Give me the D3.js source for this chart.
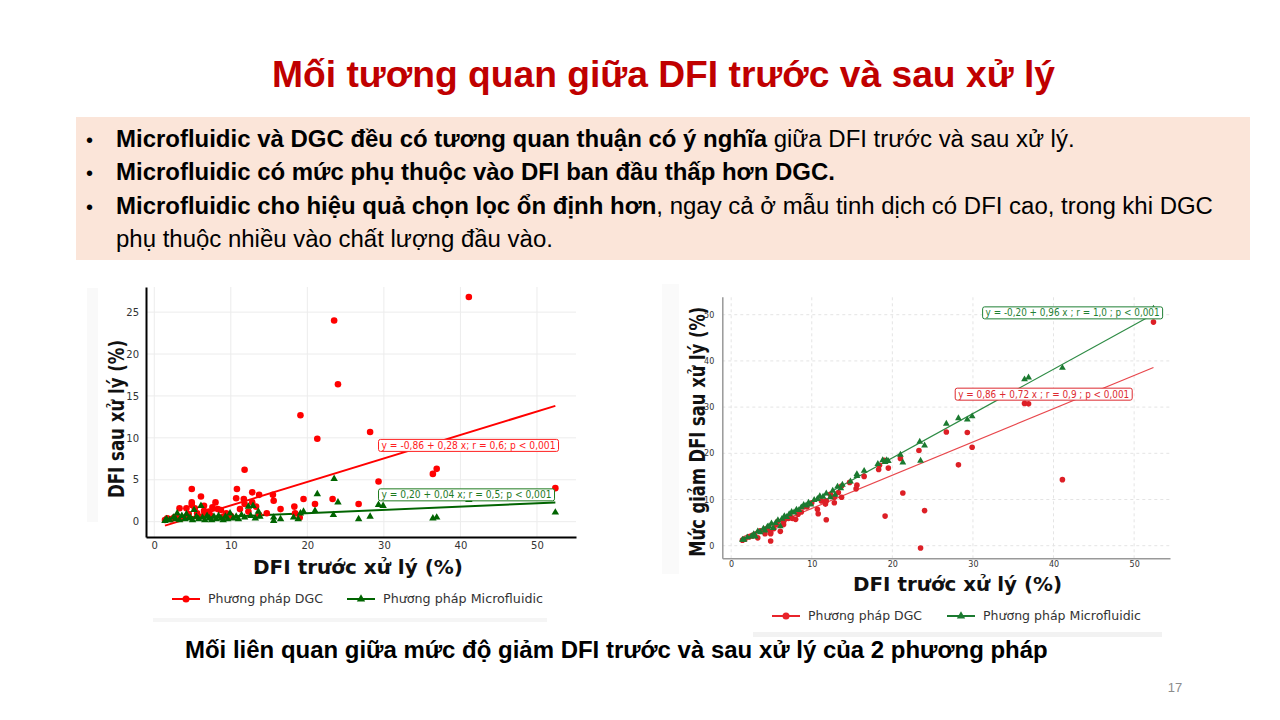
<!DOCTYPE html>
<html><head><meta charset="utf-8">
<script src="https://cdn.jsdelivr.net/npm/d3@7/dist/d3.min.js"></script>
<style>
html,body{margin:0;padding:0;background:#fff;}
svg{display:block;}
</style></head>
<body>
<svg id="slide" width="1280" height="720"></svg>
<script>
// ---------- DATA ----------
const slideTitle = "Mối tương quan giữa DFI trước và sau xử lý";
const caption = "Mối liên quan giữa mức độ giảm DFI trước và sau xử lý của 2 phương pháp";
const slideNumber = "17";
const bullets = [
  [{t:"Microfluidic và DGC đều có tương quan thuận có ý nghĩa", b:true},{t:" giữa DFI trước và sau xử lý.", b:false}],
  [{t:"Microfluidic có mức phụ thuộc vào DFI ban đầu thấp hơn DGC.", b:true}],
  [{t:"Microfluidic cho hiệu quả chọn lọc ổn định hơn", b:true},{t:", ngay cả ở mẫu tinh dịch có DFI cao, trong khi DGC", b:false}],
  [{t:"phụ thuộc nhiều vào chất lượng đầu vào.", b:false}]
];
const seriesNames = ["Phương pháp DGC", "Phương pháp Microfluidic"];
const leftYTitle = "DFI sau xử lý (%)";
const rightYTitle = "Mức giảm DFI sau xử lý (%)";
const xTitle = "DFI trước xử lý (%)";

const leftXTicks = [0,10,20,30,40,50];
const leftYTicks = [0,5,10,15,20,25];
const rightXTicks = [0,10,20,30,40,50];
const rightYTicks = [0,10,20,30,40,50];

// Left chart: DFI after treatment
const leftDgcX = [1.4,1.7,2.2,2.6,2.9,3.3,3.6,4.2,4.2,4.5,4.9,4.9,4.9,5.3,5.6,5.8,6.1,6.5,6.5,6.6,7.1,7.3,7.6,8.0,8.3,8.7,9.0,9.4,10.0,10.7,10.8,11.2,11.7,11.8,11.8,12.3,12.8,12.8,13.3,13.7,13.7,14.7,15.5,15.6,16.5,18.3,18.4,19.0,19.1,19.5,21.0,21.3,23.3,23.5,24.0,26.7,28.2,29.3,36.4,36.9,41.1,52.4];
const leftDgcY = [0.2,0.4,0.3,0.5,0.6,1.6,0.4,1.6,0.6,0.9,3.9,2.3,2.0,1.6,1.0,0.5,3.0,1.9,1.3,1.0,1.2,0.8,1.7,2.3,1.5,1.4,0.6,1.0,0.7,2.8,3.9,1.5,2.7,6.2,2.1,1.2,3.5,2.3,1.8,3.2,0.8,1.0,3.2,2.5,1.5,1.8,1.0,0.5,12.7,2.7,2.1,9.9,2.7,24.0,16.4,2.1,10.7,4.8,5.7,6.3,26.8,4.0];
const leftMfX = [1.4,1.6,2.0,2.5,2.8,3.0,3.3,3.6,4.0,4.2,4.5,4.7,5.0,5.2,5.5,5.8,6.1,6.3,6.6,6.9,7.2,7.5,7.8,8.1,8.4,8.7,9.0,9.3,9.6,9.9,10.3,10.7,11.0,11.4,11.8,12.3,12.6,12.9,13.2,13.6,13.8,15.6,15.6,16.5,18.2,18.8,19.1,19.5,21.0,21.3,23.4,23.5,24.0,26.7,28.2,29.3,29.9,36.4,36.9,41.1,52.4];
const leftMfY = [0.1,0.3,0.2,0.5,0.3,1.0,0.2,0.7,0.3,0.9,0.4,0.5,0.2,1.4,0.6,0.3,1.9,0.5,0.2,0.7,0.4,0.2,0.6,0.3,0.7,0.4,0.2,0.6,0.3,1.0,0.4,0.6,0.3,0.8,0.5,1.8,0.7,1.9,0.4,1.2,0.6,0.1,0.5,0.3,0.5,0.3,1.0,1.2,1.3,3.3,0.8,5.1,2.3,0.3,0.6,2.0,1.9,0.4,0.5,2.6,1.1];

// Right chart: reduction of DFI
const rightDgcX = [1.4,1.7,2.2,2.6,2.9,3.3,3.6,4.2,4.2,4.5,4.9,4.9,4.9,5.3,5.6,5.8,6.1,6.5,6.5,6.6,7.1,7.3,7.6,8.0,8.3,8.7,9.0,9.4,10.0,10.7,10.8,11.2,11.7,11.8,11.8,12.3,12.8,12.8,13.3,13.7,13.7,14.7,15.5,15.6,16.5,18.3,18.4,19.0,19.1,19.5,21.0,21.3,23.3,23.5,24.0,26.7,28.2,29.3,29.9,36.4,36.9,41.1,52.4];
const rightDgcY = [1.2,1.4,1.9,2.1,2.3,1.7,3.2,2.6,3.6,3.6,1.0,2.6,2.9,3.7,4.6,5.3,3.1,4.6,5.2,5.6,5.9,6.5,5.9,5.7,6.8,7.3,8.4,8.4,9.3,7.9,6.9,9.7,9.0,5.6,9.7,11.1,9.3,10.5,11.5,10.5,12.9,13.7,12.3,13.1,15.0,16.5,17.4,18.5,6.4,16.8,18.9,11.4,20.6,-0.5,7.6,24.6,17.5,24.5,21.3,30.8,30.7,14.3,48.4];
const rightMfX = [1.4,1.6,2.0,2.5,2.8,3.0,3.3,3.6,4.0,4.2,4.5,4.7,5.0,5.2,5.5,5.8,6.1,6.3,6.6,6.9,7.2,7.5,7.8,8.1,8.4,8.7,9.0,9.3,9.6,9.9,10.3,10.7,11.0,11.4,11.8,12.3,12.6,12.9,13.2,13.6,13.8,14.8,15.6,15.6,16.5,18.2,18.8,19.1,19.3,19.5,21.0,21.3,23.4,23.5,24.0,26.7,28.2,29.3,29.9,36.4,36.9,41.1,52.4];
const rightMfY = [1.3,1.3,1.8,2.0,2.5,2.0,3.1,2.9,3.7,3.3,4.1,4.2,4.8,3.8,4.9,5.5,4.2,5.8,6.4,6.2,6.8,7.3,7.2,7.8,7.7,8.3,8.8,8.7,9.3,8.9,9.9,10.1,10.7,10.6,11.3,10.5,11.9,11.0,12.8,12.4,13.2,13.9,15.5,15.1,16.2,17.7,18.5,18.1,18.5,18.3,19.7,18.0,22.5,18.4,21.7,26.4,27.6,27.3,28.0,36.0,36.4,38.5,51.3];

// Regression fits (intercept, slope, x-range) and their annotation texts
const leftFits = [
  {a:-0.86, b:0.28, x0:1.4, x1:52.4, label:"y = -0,86 + 0,28 x; r = 0,6; p < 0,001", lx:29.3, ly:9.1},
  {a:0.20, b:0.04, x0:1.4, x1:52.4, label:"y = 0,20 + 0,04 x; r = 0,5; p < 0,001", lx:29.3, ly:3.2}
];
const rightFits = [
  {a:0.86, b:0.72, x0:1.4, x1:52.4, label:"y = 0,86 + 0,72 x ; r = 0,9 ; p < 0,001", lx:27.8, ly:32.8},
  {a:-0.20, b:0.96, x0:1.4, x1:52.4, label:"y = -0,20 + 0,96 x ; r = 1,0 ; p < 0,001", lx:31.2, ly:50.4}
];

// ---------- DRAW ----------
const svg = d3.select("#slide");
const ARIAL = "'Liberation Sans', Arial, sans-serif";
const DJV = "'DejaVu Sans', sans-serif";

function fitWidth(sel, target){
  const fs = parseFloat(sel.attr("font-size"));
  const w = sel.node().getComputedTextLength();
  sel.attr("font-size", (fs*target/w).toFixed(2));
}
function squeeze(sel, target){
  sel.attr("textLength", target).attr("lengthAdjust","spacingAndGlyphs");
}

// Title
const title = svg.append("text").attr("x",663.5).attr("y",87).attr("text-anchor","middle")
  .attr("font-family",ARIAL).attr("font-weight","bold").attr("font-size",36).attr("fill","#C00000").text(slideTitle);
fitWidth(title, 783);

// Bullet box
svg.append("rect").attr("x",76).attr("y",117).attr("width",1174).attr("height",143).attr("fill","#FBE5D9");
const baselines = [147,180,214,247];
const lines = [];
bullets.forEach((parts,i)=>{
  if(i<3) svg.append("text").attr("x",86).attr("y",baselines[i]).attr("font-family",ARIAL).attr("font-size",20).attr("fill","#000").text("•");
  const t = svg.append("text").attr("x",116).attr("y",baselines[i]).attr("font-family",ARIAL).attr("font-size",20).attr("fill","#000");
  parts.forEach(p=>t.append("tspan").attr("font-weight",p.b?"bold":"normal").text(p.t));
  lines.push(t);
});
{
  const w = lines[2].node().getComputedTextLength();
  const fs = 20*1097/w;
  lines.forEach(l=>l.attr("font-size",fs.toFixed(2)));
}

// Caption & page number
const cap = svg.append("text").attr("x",185).attr("y",658).attr("font-family",ARIAL).attr("font-weight","bold")
  .attr("font-size",20).attr("fill","#000").text(caption);
fitWidth(cap, 863);
svg.append("text").attr("x",1175).attr("y",692).attr("text-anchor","middle").attr("font-family",ARIAL)
  .attr("font-size",13).attr("fill","#8c8c8c").text(slideNumber);

// faint picture edges
svg.append("rect").attr("x",87).attr("y",288).attr("width",11).attr("height",234).attr("fill","#f9f9f9");
svg.append("rect").attr("x",153).attr("y",618).attr("width",394).attr("height",4).attr("fill","#f5f5f5");
svg.append("rect").attr("x",662).attr("y",284).attr("width",17).attr("height",290).attr("fill","#fafafa");
svg.append("rect").attr("x",753).attr("y",632).attr("width",409).attr("height",5).attr("fill","#f2f2f2");

function drawChart(cfg){
  const g = svg.append("g");
  const x = d3.scaleLinear().domain(cfg.xDomain).range(cfg.xRange);
  const y = d3.scaleLinear().domain(cfg.yDomain).range(cfg.yRange);
  // grid
  const grid = g.append("g");
  grid.selectAll("line.gx").data(cfg.xTicks).join("line")
    .attr("x1",d=>x(d)).attr("x2",d=>x(d)).attr("y1",cfg.yRange[0]).attr("y2",cfg.yRange[1])
    .attr("stroke",cfg.gridColor).attr("stroke-width",1).attr("stroke-dasharray",cfg.gridDash);
  grid.selectAll("line.gy").data(cfg.yTicks).join("line")
    .attr("y1",d=>y(d)).attr("y2",d=>y(d)).attr("x1",cfg.xRange[0]).attr("x2",cfg.xRange[1])
    .attr("stroke",cfg.gridColor).attr("stroke-width",1).attr("stroke-dasharray",cfg.gridDash);
  // axes
  const ax = g.append("g").attr("transform",`translate(0,${cfg.yRange[0]})`)
    .call(d3.axisBottom(x).tickValues(cfg.xTicks).tickSize(0).tickSizeOuter(0).tickPadding(cfg.xPad));
  const ay = g.append("g").attr("transform",`translate(${cfg.xRange[0]},0)`)
    .call(d3.axisLeft(y).tickValues(cfg.yTicks).tickSize(0).tickSizeOuter(0).tickPadding(cfg.yPad));
  [ax,ay].forEach(a=>{
    a.select(".domain").attr("stroke",cfg.spineColor).attr("stroke-width",cfg.spineWidth);
    a.selectAll("text").attr("font-family",DJV).attr("font-size",cfg.tickFont).attr("fill","#333");
  });
  // fit lines
  cfg.fits.forEach((f,i)=>{
    g.append("line").attr("x1",x(f.x0)).attr("y1",y(f.a+f.b*f.x0)).attr("x2",x(f.x1)).attr("y2",y(f.a+f.b*f.x1))
      .attr("stroke",cfg.lineColors[i]).attr("stroke-width",cfg.lineWidth);
  });
  // points: DGC circles, Microfluidic triangles
  const dgc = cfg.dgcX.map((v,i)=>[v,cfg.dgcY[i]]);
  const mf = cfg.mfX.map((v,i)=>[v,cfg.mfY[i]]);
  g.append("g").selectAll("circle").data(dgc).join("circle")
    .attr("cx",d=>x(d[0])).attr("cy",d=>y(d[1])).attr("r",cfg.r).attr("fill",cfg.colors[0]);
  const tri = d3.symbol(d3.symbolTriangle).size(cfg.triSize);
  g.append("g").selectAll("path").data(mf).join("path")
    .attr("d",tri).attr("transform",d=>`translate(${x(d[0])},${y(d[1])})`).attr("fill",cfg.colors[1]);
  // labels
  cfg.fits.forEach((f,i)=>{
    const lg = g.append("g");
    const t = lg.append("text").attr("x",x(f.lx)+3).attr("y",y(f.ly)).attr("dy","0.35em")
      .attr("font-family",DJV).attr("font-size",cfg.labelFont).attr("fill",cfg.labelColors[i]).text(f.label);
    squeeze(t, cfg.labelW[i]);
    const bb = t.node().getBBox();
    lg.insert("rect","text").attr("x",x(f.lx)).attr("y",bb.y-0.5).attr("width",cfg.labelW[i]+6).attr("height",bb.height+1)
      .attr("rx",2).attr("fill","#fff").attr("stroke",cfg.labelColors[i]).attr("stroke-width",1);
  });
  // titles
  const xt = g.append("text").attr("x",cfg.xTitlePos[0]).attr("y",cfg.xTitlePos[1]).attr("text-anchor","middle")
    .attr("font-family",DJV).attr("font-weight","bold").attr("font-size",cfg.xTitleFont).attr("fill","#111").text(xTitle);
  squeeze(xt, cfg.xTitleW);
  const yt = g.append("text").attr("transform",`translate(${cfg.yTitlePos[0]},${cfg.yTitlePos[1]}) rotate(-90)`)
    .attr("text-anchor","middle").attr("dy","0.35em")
    .attr("font-family",DJV).attr("font-weight","bold").attr("font-size",cfg.yTitleFont).attr("fill","#111").text(cfg.yTitle);
  squeeze(yt, cfg.yTitleW);
  // legend
  const lgY = cfg.legendY;
  cfg.legendX.forEach((lx,i)=>{
    g.append("line").attr("x1",lx).attr("x2",lx+28).attr("y1",lgY).attr("y2",lgY).attr("stroke",cfg.legendColors[i]).attr("stroke-width",2);
    if(i===0) g.append("circle").attr("cx",lx+14).attr("cy",lgY).attr("r",3.5).attr("fill",cfg.legendColors[i]);
    else g.append("path").attr("d",d3.symbol(d3.symbolTriangle).size(30)).attr("transform",`translate(${lx+14},${lgY})`).attr("fill",cfg.legendColors[i]);
    const lt = g.append("text").attr("x",lx+36).attr("y",lgY).attr("dy","0.35em").attr("font-family",DJV)
      .attr("font-size",12.5).attr("fill","#333").text(seriesNames[i]);
    squeeze(lt, cfg.legendW[i]);
  });
}

drawChart({
  xDomain:[-1.08,55.1], xRange:[146,576], yDomain:[-1.83,28.0], yRange:[537,287],
  xTicks:leftXTicks, yTicks:leftYTicks, gridColor:"#ececec", gridDash:null,
  spineColor:"#000", spineWidth:2, tickFont:10, xPad:5, yPad:7,
  dgcX:leftDgcX, dgcY:leftDgcY, mfX:leftMfX, mfY:leftMfY,
  colors:["#ff0000","#006400"], r:3.3, triSize:24,
  fits:leftFits, lineColors:["#ff0000","#006400"], lineWidth:2,
  labelColors:["#ff2020","#1f7a1f"], labelFont:10, labelW:[174,170],
  xTitlePos:[358,574], xTitleW:210, xTitleFont:19,
  yTitle:leftYTitle, yTitlePos:[117,419], yTitleW:158, yTitleFont:21,
  legendY:599, legendX:[172,347], legendW:[115,160], legendColors:["#ff0000","#006400"]
});

drawChart({
  xDomain:[-1.1,54.45], xRange:[722.3,1170], yDomain:[-2.73,53.9], yRange:[558.3,296.7],
  xTicks:rightXTicks, yTicks:rightYTicks, gridColor:"#e4e4e4", gridDash:"3,3",
  spineColor:"#999", spineWidth:1.5, tickFont:8, xPad:3, yPad:8,
  dgcX:rightDgcX, dgcY:rightDgcY, mfX:rightMfX, mfY:rightMfY,
  colors:["#dd1f26","#1b7a30"], r:2.8, triSize:20,
  fits:rightFits, lineColors:["#e8474c","#2e8b45"], lineWidth:1.2,
  labelColors:["#dd2a2f","#1f7f34"], labelFont:10, labelW:[171,174],
  xTitlePos:[957.5,591], xTitleW:209, xTitleFont:19,
  yTitle:rightYTitle, yTitlePos:[698,431.7], yTitleW:250, yTitleFont:21,
  legendY:616, legendX:[772,947], legendW:[114,158], legendColors:["#e8242b","#1b7a30"]
});
</script>
</body></html>
